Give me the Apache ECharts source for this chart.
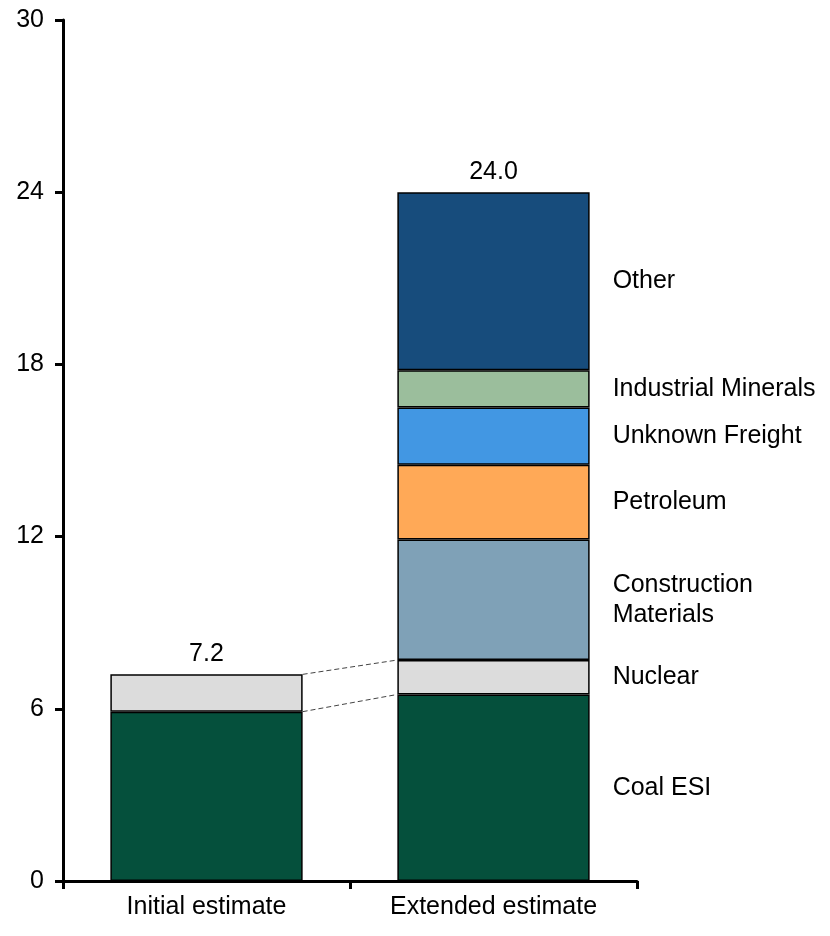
<!DOCTYPE html>
<html>
<head>
<meta charset="utf-8">
<script src="https://cdn.jsdelivr.net/npm/echarts@6/dist/echarts.min.js"></script>
<style>
  html, body { margin: 0; padding: 0; background: #fff; }
  #chart { width: 830px; height: 936px; }
</style>
</head>
<body>
<div id="chart"></div>
<script>
// Categories and stacked segment values
const categories = ['Initial estimate', 'Extended estimate'];
const coalESI = [5.9, 6.5];
const nuclear = [1.3, 1.2];
const constructionMaterials = [null, 4.2];
const petroleum = [null, 2.6];
const unknownFreight = [null, 2.0];
const industrialMinerals = [null, 1.3];
const other = [null, 6.2];
const totals = [7.2, 24.0];
const yTicks = [0, 6, 12, 18, 24, 30];

const FONT = 'Liberation Sans, Arial, sans-serif';
const FONT_SIZE = 25;
const BAR_RATIO = 0.67;

const segments = [
  { name: 'Coal ESI', data: coalESI, color: '#05503c' },
  { name: 'Nuclear', data: nuclear, color: '#dcdcdc' },
  { name: 'Construction\nMaterials', data: constructionMaterials, color: '#7fa1b7' },
  { name: 'Petroleum', data: petroleum, color: '#ffa957' },
  { name: 'Unknown Freight', data: unknownFreight, color: '#4297e3' },
  { name: 'Industrial Minerals', data: industrialMinerals, color: '#9bbe9c' },
  { name: 'Other', data: other, color: '#174c7c' }
];

const barSeries = segments.map(seg => ({
  type: 'bar',
  name: seg.name,
  stack: 'total',
  barWidth: (BAR_RATIO * 100) + '%',
  itemStyle: { color: seg.color, borderColor: '#000', borderWidth: 1.5 },
  data: seg.data.map((v, i) => {
    const item = { value: v };
    if (i === 1) {
      item.label = {
        show: true,
        position: 'right',
        distance: 23,
        formatter: seg.name,
        color: '#000',
        fontFamily: FONT,
        fontSize: FONT_SIZE,
        lineHeight: 30,
        align: 'left'
      };
    }
    return item;
  })
}));

// Cumulative tops of the coal and nuclear segments, joined by dashed connectors
const coalTop = coalESI.slice();
const nuclearTop = coalESI.map((v, i) => v + nuclear[i]);
const connectors = [
  [0, coalTop[0], coalTop[1]],
  [0, nuclearTop[0], nuclearTop[1]]
];

const chart = echarts.init(document.getElementById('chart'), null, { renderer: 'canvas' });

chart.setOption({
  animation: false,
  backgroundColor: '#fff',
  grid: { left: 63, right: 193, top: 20, bottom: 55, containLabel: false },
  xAxis: {
    type: 'category',
    data: categories,
    boundaryGap: true,
    axisLine: { lineStyle: { color: '#000', width: 3 } },
    axisTick: { show: true, length: 8, lineStyle: { color: '#000', width: 3 } },
    axisLabel: { color: '#000', fontFamily: FONT, fontSize: FONT_SIZE, margin: 14 },
    splitLine: { show: false }
  },
  yAxis: {
    type: 'value',
    min: yTicks[0],
    max: yTicks[yTicks.length - 1],
    interval: yTicks[1] - yTicks[0],
    axisLine: { show: true, lineStyle: { color: '#000', width: 3 } },
    axisTick: { show: true, length: 8, lineStyle: { color: '#000', width: 3 } },
    axisLabel: { color: '#000', fontFamily: FONT, fontSize: FONT_SIZE, margin: 19 },
    splitLine: { show: false }
  },
  series: [
    ...barSeries,
    {
      type: 'scatter',
      symbolSize: 0,
      itemStyle: { opacity: 1 },
      data: totals.map((v, i) => [i, v]),
      label: {
        show: true,
        position: 'top',
        distance: 8,
        formatter: p => p.value[1].toFixed(1),
        color: '#000',
        fontFamily: FONT,
        fontSize: FONT_SIZE
      },
      z: 5
    },
    {
      type: 'custom',
      data: connectors,
      encode: { x: 0, y: 1 },
      renderItem: function (params, api) {
        const half = api.size([1, 0])[0] * BAR_RATIO / 2;
        const p0 = api.coord([0, api.value(1)]);
        const p1 = api.coord([1, api.value(2)]);
        return {
          type: 'line',
          shape: { x1: p0[0] + half, y1: p0[1], x2: p1[0] - half, y2: p1[1] },
          style: { stroke: '#444', lineWidth: 1, lineDash: [5, 3] }
        };
      },
      z: 4
    }
  ]
});
</script>
</body>
</html>
